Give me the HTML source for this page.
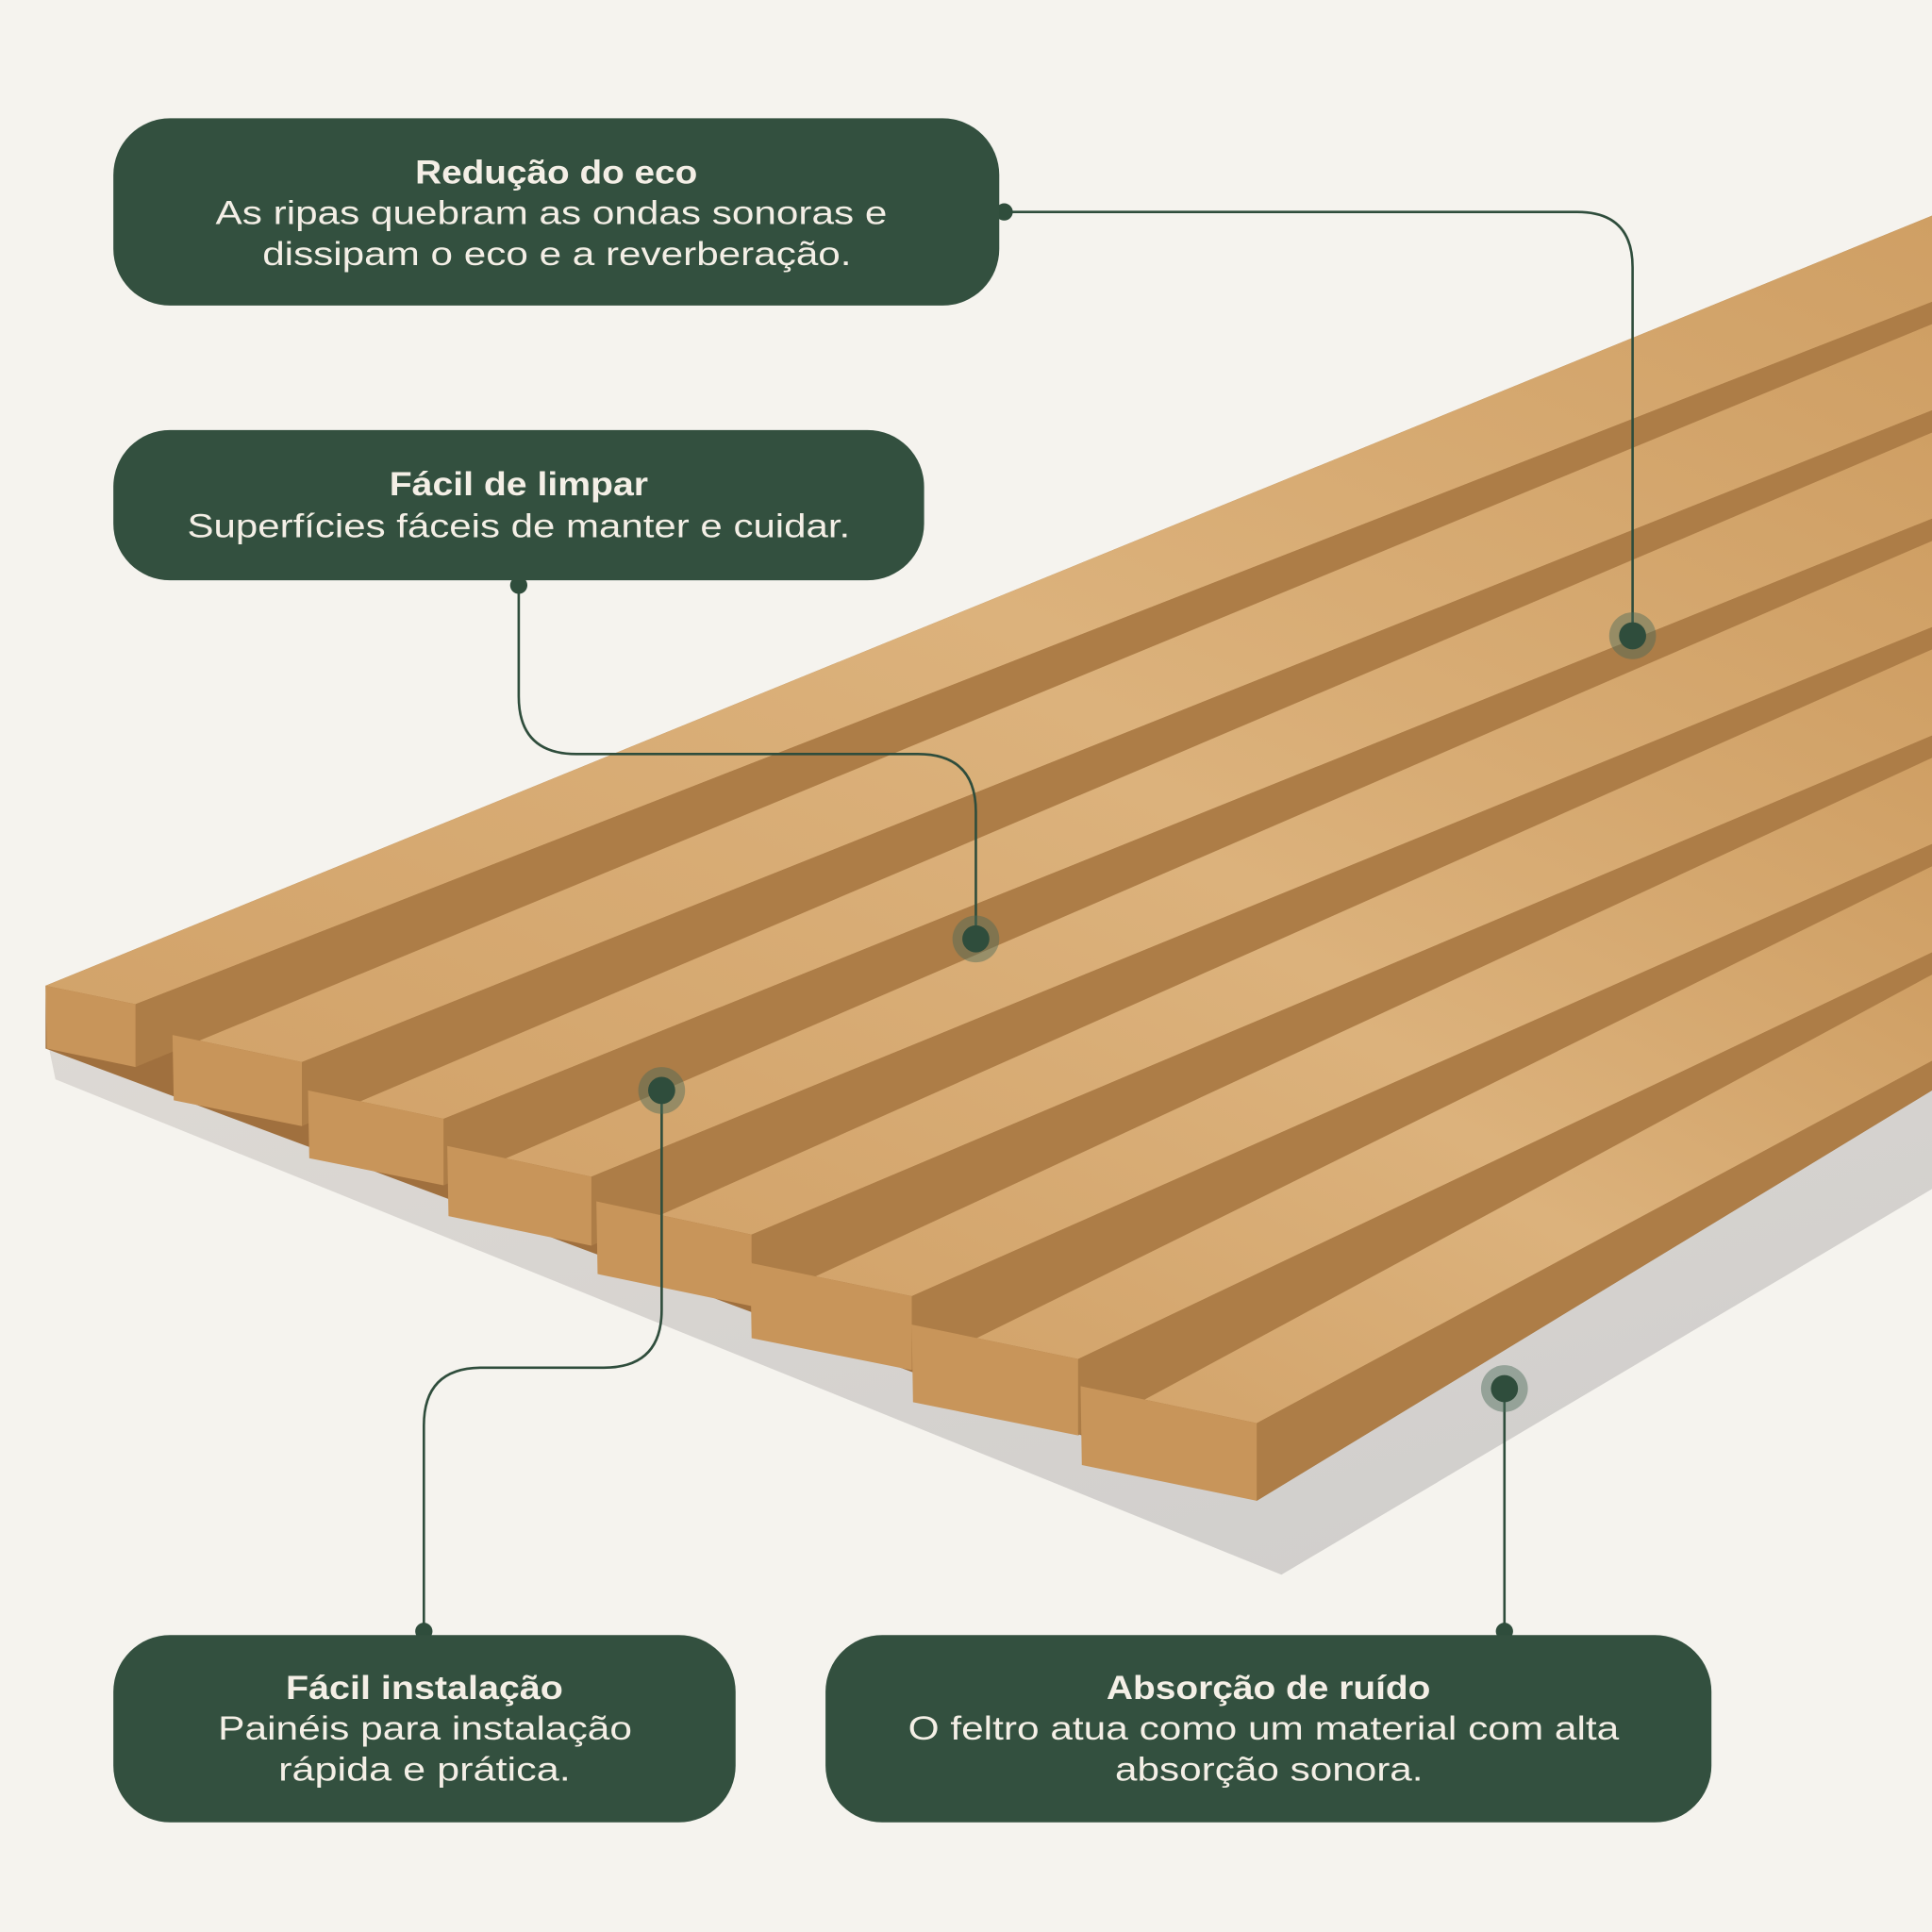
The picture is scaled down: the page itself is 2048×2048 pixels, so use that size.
<!DOCTYPE html>
<html><head><meta charset="utf-8"><style>
html,body{margin:0;padding:0;background:#f5f3ee;}
svg{display:block}
text{font-family:"Liberation Sans",sans-serif;fill:#f4efe6;}
.t{font-weight:bold;font-size:27px}
.b{font-size:27px}
</style></head><body>
<svg width="2048" height="2048" viewBox="0 0 1568 1568" xmlns="http://www.w3.org/2000/svg">
<defs>
<linearGradient id="w" x1="0" y1="1" x2="1" y2="0">
<stop offset="0" stop-color="#d2a36a"/><stop offset="0.5" stop-color="#dcb27c"/><stop offset="1" stop-color="#cf9f64"/>
</linearGradient>
<linearGradient id="f" x1="0" y1="0" x2="1" y2="1">
<stop offset="0" stop-color="#ddd9d4"/><stop offset="1" stop-color="#cfcdcb"/>
</linearGradient>
</defs>
<rect width="1568" height="1568" fill="#f5f3ee"/>
<polygon points="38,842 1568,860 1568,965 1040,1278 45,876" fill="url(#f)"/>
<polygon points="37,800 1568,175 1568,885 1020,1218 37,851" fill="#a0703e"/>
<g fill="url(#w)">
<polygon points="37,800 110,815 1568,245 1568,175"/>
<polygon points="140,840 245,862 1568,333 1568,263"/>
<polygon points="250,885 360,908 1568,421 1568,351"/>
<polygon points="363,930 480,955 1568,509 1568,439"/>
<polygon points="484,975 610,1002 1568,597 1568,527"/>
<polygon points="609,1025 740,1052 1568,685 1568,615"/>
<polygon points="740,1075 875,1103 1568,773 1568,703"/>
<polygon points="877,1125 1020,1155 1568,861 1568,791"/>
</g>
<g fill="#ad7d47">
<polygon points="110,815 110,866 1568,263 1568,245"/>
<polygon points="245,862 245,914 1568,351 1568,333"/>
<polygon points="360,908 360,962 1568,439 1568,421"/>
<polygon points="480,955 480,1011 1568,527 1568,509"/>
<polygon points="610,1002 610,1060 1568,615 1568,597"/>
<polygon points="740,1052 740,1112 1568,703 1568,685"/>
<polygon points="875,1103 875,1165 1568,791 1568,773"/>
<polygon points="1020,1155 1020,1218 1568,885 1568,861"/>
</g>
<g fill="#c8955a">
<polygon points="37,800 110,815 110,866 38,851"/>
<polygon points="140,840 245,862 245,914 141,893"/>
<polygon points="250,885 360,908 360,962 251,940"/>
<polygon points="363,930 480,955 480,1011 364,987"/>
<polygon points="484,975 610,1002 610,1060 485,1034"/>
<polygon points="609,1025 740,1052 740,1112 610,1086"/>
<polygon points="740,1075 875,1103 875,1165 741,1138"/>
<polygon points="877,1125 1020,1155 1020,1218 878,1189"/>
</g>
<g fill="none" stroke="#2f4d3c" stroke-width="2">
<path d="M815,172 H1280 Q1325,172 1325,217 V516"/>
<path d="M421,475 V565 Q421,612 468,612 H745 Q792,612 792,659 V762"/>
<path d="M537,885 V1063 Q537,1110 490,1110 H391 Q344,1110 344,1157 V1322"/>
<path d="M1221,1127 V1322"/>
</g>
<g fill="#2f4d3c">
<circle cx="815" cy="172" r="7"/><circle cx="421" cy="475" r="7"/>
<circle cx="344" cy="1324" r="7"/><circle cx="1221" cy="1324" r="7"/>
</g>
<g>
<circle cx="1325" cy="516" r="19" fill="#4a6a58" fill-opacity="0.45"/><circle cx="1325" cy="516" r="11" fill="#2f4d3c"/>
<circle cx="792" cy="762" r="19" fill="#4a6a58" fill-opacity="0.45"/><circle cx="792" cy="762" r="11" fill="#2f4d3c"/>
<circle cx="537" cy="885" r="19" fill="#4a6a58" fill-opacity="0.45"/><circle cx="537" cy="885" r="11" fill="#2f4d3c"/>
<circle cx="1221" cy="1127" r="19" fill="#4a6a58" fill-opacity="0.45"/><circle cx="1221" cy="1127" r="11" fill="#2f4d3c"/>
</g>
<g fill="#33503f">
<rect x="92" y="96" width="719" height="152" rx="46"/>
<rect x="92" y="349" width="658" height="122" rx="46"/>
<rect x="92" y="1327" width="505" height="152" rx="46"/>
<rect x="670" y="1327" width="719" height="152" rx="46"/>
</g>
<text class="t" x="337" y="149" textLength="229" lengthAdjust="spacingAndGlyphs">Redução do eco</text>
<text class="b" x="175" y="182" textLength="545" lengthAdjust="spacingAndGlyphs">As ripas quebram as ondas sonoras e</text>
<text class="b" x="213" y="215" textLength="478" lengthAdjust="spacingAndGlyphs">dissipam o eco e a reverberação.</text>
<text class="t" x="316" y="402" textLength="210" lengthAdjust="spacingAndGlyphs">Fácil de limpar</text>
<text class="b" x="152" y="436" textLength="538" lengthAdjust="spacingAndGlyphs">Superfícies fáceis de manter e cuidar.</text>
<text class="t" x="232" y="1379" textLength="225" lengthAdjust="spacingAndGlyphs">Fácil instalação</text>
<text class="b" x="177" y="1412" textLength="336" lengthAdjust="spacingAndGlyphs">Painéis para instalação</text>
<text class="b" x="226" y="1445" textLength="237" lengthAdjust="spacingAndGlyphs">rápida e prática.</text>
<text class="t" x="898" y="1379" textLength="263" lengthAdjust="spacingAndGlyphs">Absorção de ruído</text>
<text class="b" x="737" y="1412" textLength="577" lengthAdjust="spacingAndGlyphs">O feltro atua como um material com alta</text>
<text class="b" x="905" y="1445" textLength="250" lengthAdjust="spacingAndGlyphs">absorção sonora.</text>
</svg>
</body></html>
